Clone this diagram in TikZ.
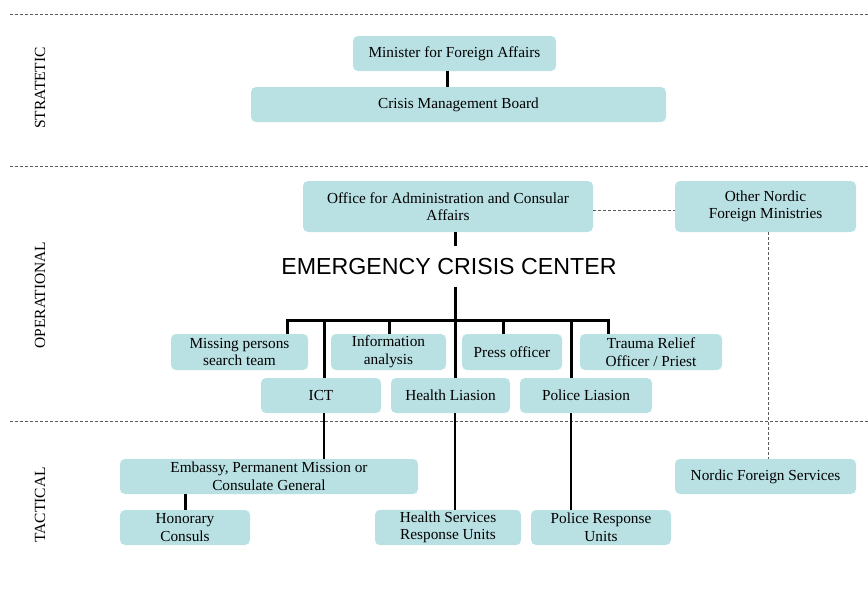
\documentclass[tikz,border=0pt]{standalone}
\usepackage{fontspec}
\setmainfont{Liberation Serif}
\newfontfamily\eccfont{Liberation Sans}
\definecolor{boxfill}{RGB}{185,224,227}
\definecolor{sepgray}{RGB}{90,90,90}
\begin{document}
\begin{tikzpicture}[x=1pt,y=-1pt,
  box/.style={fill=boxfill, draw=none, rounded corners=5pt, align=center, inner sep=2pt,
    font=\fontsize{15.3}{17.5}\selectfont},
  thickline/.style={line width=3pt},
  thinline/.style={line width=1.4pt},
  sep/.style={draw=sepgray, line width=0.9pt, dash pattern=on 3pt off 2pt},
  conndash/.style={draw=sepgray, line width=0.9pt, dash pattern=on 3pt off 2pt},
  level/.style={rotate=90, font=\fontsize{15.5}{17}\selectfont}]
\useasboundingbox (0,0) rectangle (868,589);
% separators
\coordinate (s1a) at (10,14); \coordinate (s1b) at (868,14);
\coordinate (s2a) at (10,166); \coordinate (s2b) at (868,166);
\coordinate (s3a) at (10,421); \coordinate (s3b) at (868,421);
\draw[sep] (s1a) -- (s1b);
\draw[sep] (s2a) -- (s2b);
\draw[sep] (s3a) -- (s3b);
% level labels
\node[level] (lstr) at (40,88) {STRATETIC};
\node[level] (lop) at (40,295) {OPERATIONAL};
\node[level] (ltac) at (40,505) {TACTICAL};
% strategic
\node[box, minimum width=203pt, minimum height=35pt] (min) at (454.5,53.5) {Minister for Foreign Affairs};
\node[box, minimum width=415pt, minimum height=35pt] (cmb) at (458.5,104.5) {Crisis Management Board};
% operational
\node[box, minimum width=290pt, minimum height=51pt] (off) at (448,206.5) {Office for Administration and Consular\\Affairs};
\node[box, minimum width=181pt, minimum height=51pt] (onf) at (765.5,206.5) {Other Nordic\\Foreign Ministries};
\node[font=\eccfont\fontsize{23.2}{26}\selectfont, inner sep=0pt, minimum height=40pt] (ecc) at (449,266.5) {EMERGENCY CRISIS CENTER};
\node[box, minimum width=137pt, minimum height=36pt] (miss) at (239.5,352) {Missing persons\\search team};
\node[box, minimum width=115pt, minimum height=36pt] (info) at (388.5,352) {Information\\analysis};
\node[box, minimum width=100pt, minimum height=36pt] (press) at (512,352) {Press officer};
\node[box, minimum width=142pt, minimum height=36pt] (trauma) at (651,352) {Trauma Relief\\Officer / Priest};
\node[box, minimum width=120pt, minimum height=35pt] (ict) at (321,395.5) {ICT};
\node[box, minimum width=119pt, minimum height=35pt] (hl) at (450.5,395.5) {Health Liasion};
\node[box, minimum width=132pt, minimum height=35pt] (pl) at (586,395.5) {Police Liasion};
% tactical
\node[box, minimum width=298pt, minimum height=35pt] (emb) at (269,476.5) {Embassy, Permanent Mission or\\Consulate General};
\node[box, minimum width=181pt, minimum height=35pt] (nfs) at (765.5,476.5) {Nordic Foreign Services};
\node[box, minimum width=130pt, minimum height=35pt] (hon) at (185,527.5) {Honorary\\Consuls};
\node[box, minimum width=146pt, minimum height=35pt] (hsr) at (448,527.5) {Health Services\\Response Units};
\node[box, minimum width=140pt, minimum height=35pt] (prr) at (601,527.5) {Police Response\\Units};
% connectors
\coordinate (cmin) at (447,0);
\draw[thickline] (min.south -| cmin) -- (cmb.north -| cmin);
\coordinate (bar) at (455,320);
\draw[thickline] (off.south -| bar) -- (ecc.north -| bar);
\draw[thickline] (ecc.south -| bar) -- (bar);
\coordinate (dmiss) at (287,320);
\coordinate (dict) at (324,320);
\coordinate (dinfo) at (389,320);
\coordinate (dpress) at (503,320);
\coordinate (dpol) at (571,320);
\coordinate (dtr) at (608,320);
\draw[thickline] (dmiss |- miss.north) -- (dmiss) -- (dtr) -- (dtr |- trauma.north);
\draw[thickline] (dict) -- (dict |- ict.north);
\draw[thickline] (dinfo) -- (dinfo |- info.north);
\draw[thickline] (bar) -- (bar |- hl.north);
\draw[thickline] (dpress) -- (dpress |- press.north);
\draw[thickline] (dpol) -- (dpol |- pl.north);
\draw[thinline] (ict.south -| dict) -- (emb.north -| dict);
\draw[thinline] (hl.south -| bar) -- (hsr.north -| bar);
\draw[thinline] (pl.south -| dpol) -- (prr.north -| dpol);
\draw[thickline] (emb.south -| hon.north) -- (hon.north);
\coordinate (onfx) at (768,0);
\draw[conndash] (off.east |- 0,210) -- (onf.west |- 0,210);
\draw[conndash] (onf.south -| onfx) -- (nfs.north -| onfx);
\end{tikzpicture}
\end{document}
